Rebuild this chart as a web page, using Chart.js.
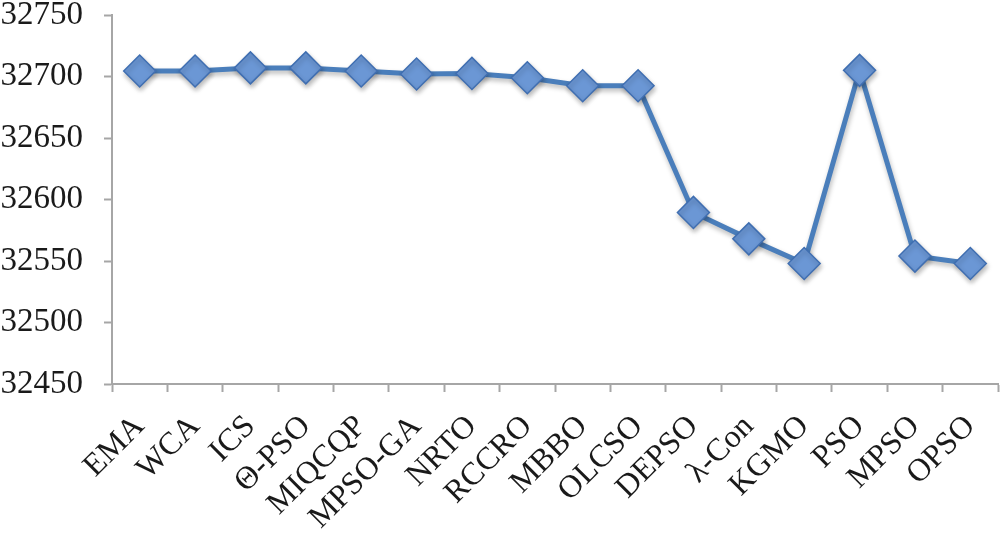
<!DOCTYPE html>
<html>
<head>
<meta charset="utf-8">
<script src="https://cdn.jsdelivr.net/npm/chart.js@4/dist/chart.umd.min.js"></script>
<style>
  html, body { margin: 0; padding: 0; background: #fff; }
  #wrap { width: 1004px; height: 533px; position: relative; }
</style>
</head>
<body>
<div id="wrap"><canvas id="myChart"></canvas></div>
<script>
// categories and values
const methods = ['EMA', 'WCA', 'ICS', 'Θ-PSO', 'MIQCQP', 'MPSO-GA', 'NRTO', 'RCCRO',
  'MBBO', 'OLCSO', 'DEPSO', 'λ-Con', 'KGMO', 'PSO', 'MPSO', 'OPSO'];
const costs = [32704.5, 32704.5, 32707, 32707, 32704.5, 32702, 32702.5, 32699,
  32692.5, 32692.5, 32589.5, 32568, 32548, 32705, 32554, 32548];
const yMin = 32450;
const yMax = 32750;
const yStep = 50;

const axisGray = '#a6a6a6';
const textColor = '#1a1a1a';
const serif = "'Liberation Serif', 'Times New Roman', serif";

// soft drop shadow under the line and markers
const shadowPlugin = {
  id: 'shadow',
  beforeDatasetsDraw(chart) {
    const ctx = chart.ctx;
    ctx.save();
    ctx.shadowColor = 'rgba(0, 0, 0, 0.28)';
    ctx.shadowBlur = 5;
    ctx.shadowOffsetX = 1;
    ctx.shadowOffsetY = 3;
  },
  afterDatasetsDraw(chart) {
    chart.ctx.restore();
  }
};

const ctx = document.getElementById('myChart').getContext('2d');
const myChart = new Chart(ctx, {
  type: 'line',
  data: {
    labels: methods,
    datasets: [{
      data: costs,
      borderColor: '#4a7ebb',
      borderWidth: 5,
      pointStyle: 'rectRot',
      pointRadius: 16,
      pointBackgroundColor: '#6b97d5',
      pointBorderColor: '#3f6eb1',
      pointBorderWidth: 1.5,
      tension: 0,
      fill: false,
      clip: false
    }]
  },
  plugins: [shadowPlugin],
  options: {
    responsive: true,
    maintainAspectRatio: false,
    animation: false,
    // big markers would otherwise add extra room round the plot
    layout: { autoPadding: false, padding: { top: 15, right: 6, left: 0, bottom: 0 } },
    plugins: {
      legend: { display: false },
      tooltip: { enabled: false }
    },
    scales: {
      x: {
        offset: true,
        grid: {
          offset: true,
          drawOnChartArea: false,
          drawTicks: true,
          tickLength: 8,
          tickWidth: 2,
          tickColor: axisGray
        },
        border: { color: axisGray, width: 2 },
        ticks: {
          autoSkip: false,
          minRotation: 45,
          maxRotation: 45,
          padding: 16,
          color: textColor,
          font: { family: serif, size: 32 }
        },
        afterFit(scale) {
          scale.height = 149;
          scale.paddingLeft = 0;
          scale.paddingRight = 0;
        }
      },
      y: {
        min: yMin,
        max: yMax,
        grid: {
          drawOnChartArea: false,
          drawTicks: true,
          tickLength: 8,
          tickWidth: 2,
          tickColor: axisGray
        },
        border: { color: axisGray, width: 2 },
        ticks: {
          stepSize: yStep,
          padding: 21,
          color: textColor,
          font: { family: serif, size: 33 },
          callback: (v) => String(v)
        },
        afterFit(scale) {
          scale.width = 112;
          scale.paddingTop = 0;
          scale.paddingBottom = 0;
        }
      }
    }
  }
});
</script>
</body>
</html>
